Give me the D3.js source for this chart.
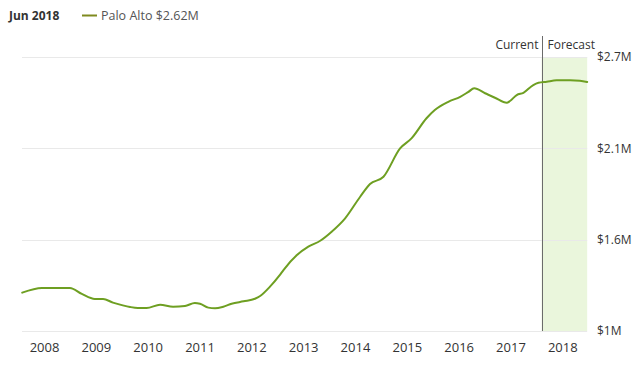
<!DOCTYPE html>
<html>
<head>
<meta charset="utf-8">
<script src="https://cdn.jsdelivr.net/npm/d3@7"></script>
<style>
  html, body { margin: 0; padding: 0; background: #fff; }
  svg { display: block; font-family: "Open Sans", "Noto Sans", sans-serif; }
</style>
</head>
<body>
<svg id="chart" width="640" height="367"></svg>
<script>
// ---- data ----
const headerDate = "Jun 2018";
const seriesName = "Palo Alto $2.62M";
// decimal years
const years = [2007.58, 2007.96, 2008.50, 2008.73, 2008.98, 2009.14, 2009.33, 2009.52, 2009.66, 2009.81,
  2009.98, 2010.24, 2010.49, 2010.72, 2010.91, 2011.01, 2011.17, 2011.30, 2011.46, 2011.62,
  2011.85, 2012.07, 2012.17, 2012.36, 2012.54, 2012.62, 2012.88, 2013.10, 2013.33, 2013.55,
  2013.81, 2014.10, 2014.29, 2014.55, 2014.87, 2015.09, 2015.38, 2015.54, 2015.80, 2016.03,
  2016.19, 2016.30, 2016.51, 2016.70, 2016.93, 2016.99, 2017.12, 2017.25, 2017.44, 2017.54,
  2017.70, 2017.89, 2018.15, 2018.34, 2018.48];
// values in $M
const values = [1.238, 1.267, 1.267, 1.230, 1.199, 1.199, 1.176, 1.159, 1.149, 1.143,
  1.143, 1.163, 1.151, 1.155, 1.174, 1.169, 1.145, 1.141, 1.151, 1.169,
  1.184, 1.200, 1.217, 1.275, 1.343, 1.378, 1.471, 1.523, 1.560, 1.616,
  1.699, 1.833, 1.912, 1.957, 2.133, 2.195, 2.320, 2.371, 2.422, 2.453,
  2.484, 2.506, 2.475, 2.447, 2.416, 2.427, 2.464, 2.478, 2.526, 2.540,
  2.547, 2.555, 2.555, 2.553, 2.545];
const yearTicks = [2008, 2009, 2010, 2011, 2012, 2013, 2014, 2015, 2016, 2017, 2018];
const valueTicks = [1.0, 1.5667, 2.1333, 2.7];
const valueTickLabels = ["$1M", "$1.6M", "$2.1M", "$2.7M"];
const currentYear = 2017.60;
const forecastEnd = 2018.48;

// ---- layout ----
const svg = d3.select("#chart");
const x = d3.scaleLinear().domain([2008, 2018]).range([44, 562.3]);
const y = d3.scaleLinear().domain([1.0, 2.7]).range([331, 57]);
const plotLeft = 22, plotRight = x(forecastEnd);

const data = years.map((yr, i) => ({ yr, v: values[i] }));

// forecast shading
svg.append("rect")
  .attr("x", x(currentYear)).attr("y", y(2.7))
  .attr("width", x(forecastEnd) - x(currentYear))
  .attr("height", y(1.0) - y(2.7))
  .attr("fill", "#eaf6dc");

// gridlines
svg.append("g").selectAll("line").data(valueTicks).join("line")
  .attr("x1", plotLeft).attr("x2", plotRight)
  .attr("y1", d => Math.round(y(d)) + 0.5).attr("y2", d => Math.round(y(d)) + 0.5)
  .attr("stroke", "#e9e9e9").attr("stroke-width", 1);

// y axis on the right
const yAxis = d3.axisRight(y).tickValues(valueTicks)
  .tickFormat((d, i) => valueTickLabels[i]).tickSize(0).tickPadding(0);
const gy = svg.append("g").attr("transform", `translate(597,0)`).call(yAxis);
gy.select(".domain").remove();
gy.selectAll("text").attr("font-size", 12).attr("fill", "#333")
  .attr("font-family", "'Open Sans', sans-serif");

// x axis
const xAxis = d3.axisBottom(x).tickValues(yearTicks).tickFormat(d3.format("d"))
  .tickSize(0).tickPadding(0);
const gx = svg.append("g").attr("transform", `translate(0,343)`).call(xAxis);
gx.select(".domain").remove();
gx.selectAll("text").attr("font-size", 13).attr("fill", "#333")
  .attr("font-family", "'Open Sans', sans-serif");

// current line
const cx = Math.round(x(currentYear)) + 0.5;
svg.append("line").attr("x1", cx).attr("x2", cx).attr("y1", 36).attr("y2", y(1.0))
  .attr("stroke", "#6b6b6b").attr("stroke-width", 1);
svg.append("text").attr("x", cx - 4).attr("y", 49).attr("text-anchor", "end")
  .attr("font-size", 12).attr("fill", "#333").text("Current");
svg.append("text").attr("x", cx + 5).attr("y", 49).attr("text-anchor", "start")
  .attr("font-size", 12).attr("fill", "#333").text("Forecast");

// series line
const line = d3.line().x(d => x(d.yr)).y(d => y(d.v)).curve(d3.curveMonotoneX);
svg.append("path").datum(data).attr("d", line)
  .attr("fill", "none").attr("stroke", "#6e9f22").attr("stroke-width", 2)
  .attr("stroke-linejoin", "round").attr("stroke-linecap", "round");

// header
svg.append("text").attr("x", 9).attr("y", 20).attr("font-size", 12)
  .attr("font-weight", "bold").attr("fill", "#333").text(headerDate);
svg.append("line").attr("x1", 82).attr("x2", 97).attr("y1", 15.5).attr("y2", 15.5)
  .attr("stroke", "#7f8a1f").attr("stroke-width", 2);
svg.append("text").attr("x", 101).attr("y", 20).attr("font-size", 12.5)
  .attr("fill", "#555").text(seriesName);
</script>
</body>
</html>
